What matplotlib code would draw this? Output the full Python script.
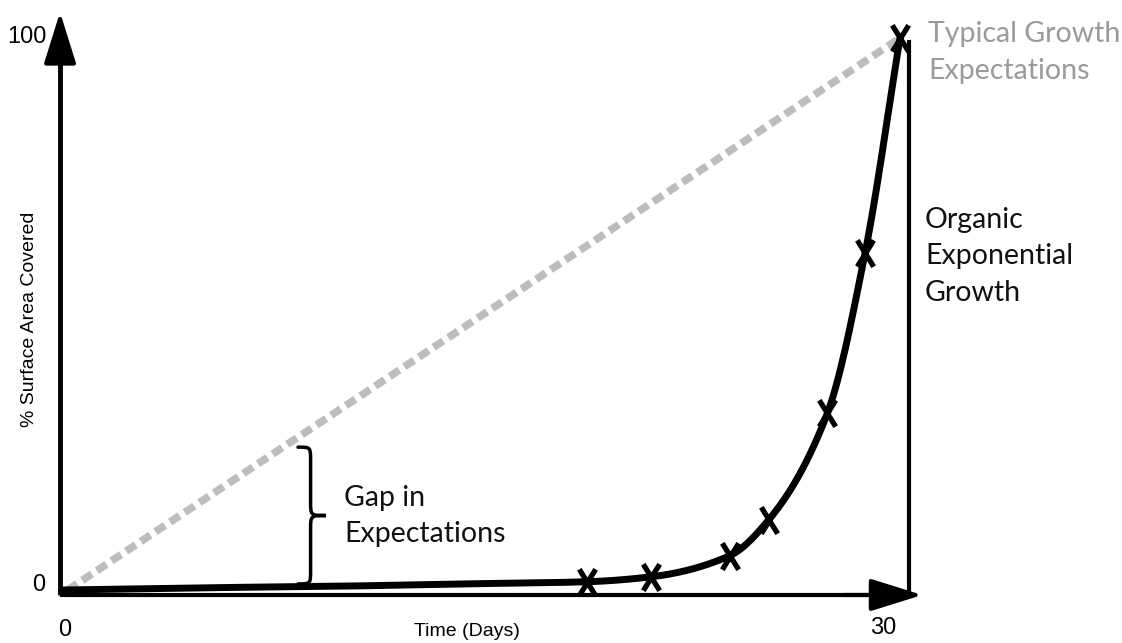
import numpy as np
import matplotlib.pyplot as plt
from matplotlib.path import Path
from matplotlib.patches import PathPatch

# curve of actual growth (days, % covered)
curve_days = [0, 5, 10, 14.3, 18.8, 21.1, 23.9, 25.3, 27.4, 28.75, 30]
curve_pct = [0, 0.4, 0.7, 1.1, 1.5, 2.4, 6.2, 12.7, 32, 61, 100]
# points marked with an X
mark_days = [18.8, 21.1, 23.9, 25.3, 27.4, 28.75, 30]
mark_pct = [1.5, 2.4, 6.2, 12.7, 32, 61, 100]
# straight-line expectation
expect_days = [0.2, 30]
expect_pct = [0, 100]
gap_day = 8.45

MAIN_FONT = ['Lato', 'DejaVu Sans']
NARROW_FONT = ['Liberation Sans Narrow', 'Liberation Sans', 'DejaVu Sans']

# tall "X" like the hand drawn marks
X_MARK = Path([(-0.62, -1), (0.62, 1), (-0.62, 1), (0.62, -1)],
              [Path.MOVETO, Path.LINETO, Path.MOVETO, Path.LINETO])


def pchip(x, y, xs):
    # monotone cubic hermite, just to draw a smooth line through the points
    x = np.asarray(x, float)
    y = np.asarray(y, float)
    h = np.diff(x)
    d = np.diff(y) / h
    m = np.zeros_like(y)
    for k in range(1, len(x) - 1):
        if d[k - 1] * d[k] > 0:
            w1 = 2 * h[k] + h[k - 1]
            w2 = h[k] + 2 * h[k - 1]
            m[k] = (w1 + w2) / (w1 / d[k - 1] + w2 / d[k])
    m[0] = d[0]
    m[-1] = d[-1]
    idx = np.clip(np.searchsorted(x, xs) - 1, 0, len(x) - 2)
    t = (xs - x[idx]) / h[idx]
    h00 = 2 * t**3 - 3 * t**2 + 1
    h10 = t**3 - 2 * t**2 + t
    h01 = -2 * t**3 + 3 * t**2
    h11 = t**3 - t**2
    return (h00 * y[idx] + h10 * h[idx] * m[idx]
            + h01 * y[idx + 1] + h11 * h[idx] * m[idx + 1])


def brace(ax, x0, top, bot, w):
    xm = x0 + w * 0.45
    mid = (top + bot) / 2
    r = (top - bot) * 0.1
    verts = [(x0, top),
             (xm, top), (xm, top), (xm, top - r),
             (xm, mid + r),
             (xm, mid), (xm, mid), (x0 + w, mid),
             (xm, mid), (xm, mid), (xm, mid - r),
             (xm, bot + r),
             (xm, bot), (xm, bot), (x0, bot)]
    codes = [Path.MOVETO] + [Path.CURVE4] * 3 + [Path.LINETO] + [Path.CURVE4] * 6 \
        + [Path.LINETO] + [Path.CURVE4] * 3
    ax.add_patch(PathPatch(Path(verts, codes), fill=False, lw=2.5, color='k',
                           capstyle='round'))


fig = plt.figure(figsize=(11.22, 6.43), dpi=100)
ax = fig.add_axes([0, 0, 1, 1])
ax.set_xlim(-2.22, 37.95)
ax.set_ylim(-9.6, 106.9)
ax.axis('off')

# axes with arrow heads
ax.plot([-0.07, 30.33], [-0.9, -0.9], color='k', lw=3, solid_capstyle='butt')
ax.annotate('', xy=(30.8, -0.9), xytext=(28, -0.9),
            arrowprops=dict(arrowstyle='-|>,head_length=1.6,head_width=0.5',
                            mutation_scale=20, lw=3, color='k', shrinkA=0, shrinkB=0))
ax.plot([-0.07, -0.07], [-0.9, 96], color='k', lw=3.5, solid_capstyle='butt')
ax.annotate('', xy=(-0.07, 104.7), xytext=(-0.07, 95),
            arrowprops=dict(arrowstyle='-|>,head_length=1.6,head_width=0.5',
                            mutation_scale=20, lw=3, color='k', shrinkA=0, shrinkB=0))
ax.plot([30.33, 30.33], [-0.9, 99.6], color='k', lw=3, solid_capstyle='butt')

# expectation line
ax.plot(expect_days, expect_pct, color='#bdbdbd', lw=5.5, ls=(0, (1.5, 0.8)))

# actual growth
xs = np.linspace(curve_days[0], curve_days[-1], 600)
ax.plot(xs, pchip(curve_days, curve_pct, xs), color='k', lw=5, solid_capstyle='round')
ax.plot(mark_days, mark_pct, ls='none', marker=X_MARK, ms=19, mew=3.8, color='k')

# gap brace
gap_top = np.interp(gap_day, expect_days, expect_pct) - 1.8
gap_bot = np.interp(gap_day, curve_days, curve_pct) + 0.5
brace(ax, gap_day, gap_top, gap_bot, 1.0)
ax.text(10.1, 13.4, 'Gap in\nExpectations', fontsize=20.5, family=MAIN_FONT,
        va='center', ha='left', linespacing=1.5, color='#111111')

# labels on the right
ax.text(31.0, 97.4, 'Typical Growth\nExpectations', fontsize=20.5, family=MAIN_FONT,
        color='#9a9a9a', va='center', ha='left', linespacing=1.5)
ax.text(30.9, 60.5, 'Organic\nExponential\nGrowth', fontsize=20.5, family=MAIN_FONT,
        color='#111111', va='center', ha='left', linespacing=1.5)

# tick labels and axis titles
ax.text(-0.6, 0.9, '0', fontsize=17, family=NARROW_FONT, ha='right', va='center')
ax.text(-0.55, 100.2, '100', fontsize=17, family=NARROW_FONT, ha='right', va='center')
ax.text(0.1, -7.3, '0', fontsize=17, family=NARROW_FONT, ha='center', va='center')
ax.text(29.4, -6.8, '30', fontsize=17, family=NARROW_FONT, ha='center', va='center')
ax.text(14.5, -7.5, 'Time (Days)', fontsize=14, family=NARROW_FONT, ha='center', va='center')
ax.text(-1.15, 49, '% Surface Area Covered', fontsize=14, family=NARROW_FONT,
        rotation=90, ha='center', va='center')

fig.savefig('out.png', dpi=100)
